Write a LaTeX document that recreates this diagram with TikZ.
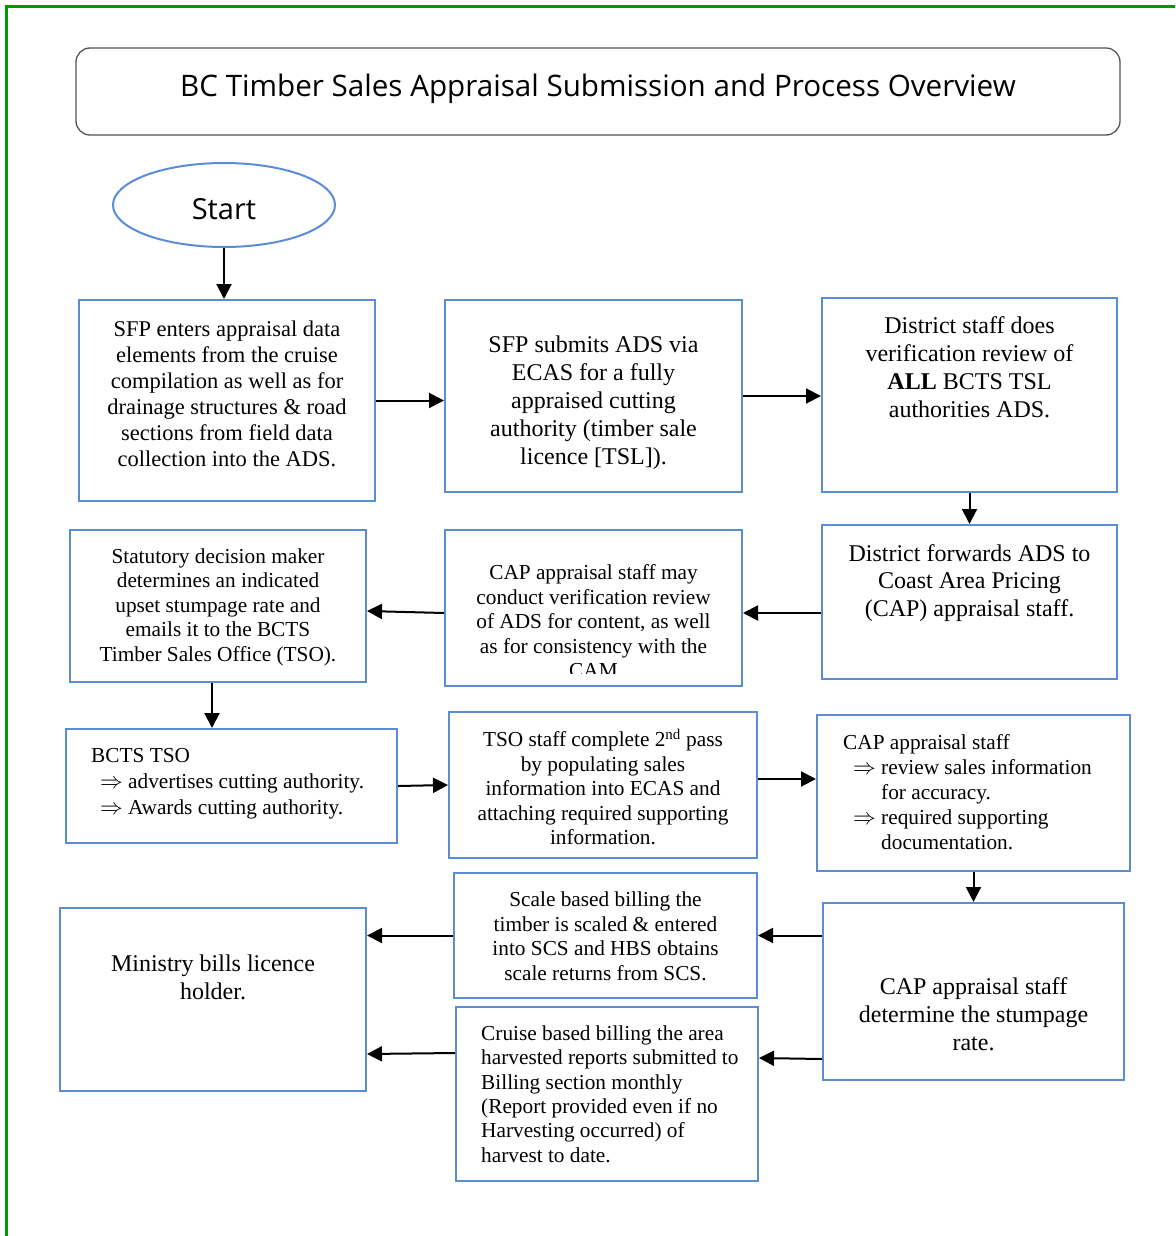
\documentclass[tikz,border=0pt]{standalone}
\usepackage{fontspec}
\setmainfont{Liberation Serif}
\newfontfamily\titlefont{Open Sans}
\usetikzlibrary{arrows.meta,shapes.geometric}
\definecolor{bxblue}{RGB}{91,141,214}
\definecolor{frgreen}{RGB}{0,153,0}
\definecolor{ttgray}{RGB}{85,85,85}
\newcommand{\dimp}{\makebox[28pt][l]{\scalebox{1.1}{$\Rightarrow$}}}
\tikzset{
  bx/.style={draw=bxblue, line width=2pt, rectangle, inner sep=0pt, fill=white},
  arr/.style={draw=black, line width=2pt, -{Triangle[length=15pt,width=15pt]}},
  tsmall/.style={inner sep=0pt, align=center, font=\fontsize{21.3pt}{24.5pt}\selectfont},
  tmid/.style={inner sep=0pt, align=center, font=\fontsize{22.5pt}{26pt}\selectfont},
  tbig/.style={inner sep=0pt, align=center, font=\fontsize{24pt}{28pt}\selectfont},
}
\begin{document}
\begin{tikzpicture}[x=1pt,y=-1pt]
\useasboundingbox (0,0) rectangle (1175,1236);
\clip (0,0) rectangle (1175,1236);
\fill[white] (0,0) rectangle (1175,1236);
% frame
\draw[frgreen, line width=3.2pt] (6.5,1250) -- (6.5,6.5) -- (1190,6.5);
% title
\node[draw=ttgray, line width=1.3pt, rounded corners=14pt, minimum width=1044pt, minimum height=87pt, inner sep=0pt] (title) at (598,91.5) {};
\node[inner sep=0pt, font=\titlefont\fontsize{29.6pt}{34pt}\selectfont] (titletext) at (598,88.5) {BC Timber Sales Appraisal Submission and Process Overview};
% start
\node[draw=bxblue, line width=2pt, ellipse, minimum width=222pt, minimum height=84pt, inner sep=0pt] (start) at (224,205) {};
\node[inner sep=0pt, font=\titlefont\fontsize{29pt}{34pt}\selectfont] (starttext) at (224,209) {Start};
% boxes
\node[bx, minimum width=296pt, minimum height=201pt] (b1) at (227,400.5) {};
\node[bx, minimum width=297pt, minimum height=192pt] (b2) at (593.5,396) {};
\node[bx, minimum width=295pt, minimum height=194pt] (b3) at (969.5,395) {};
\node[bx, minimum width=295pt, minimum height=154pt] (b4) at (969.5,602) {};
\node[bx, minimum width=297pt, minimum height=156pt] (b5) at (593.5,608) {};
\node[bx, minimum width=296pt, minimum height=152pt] (b6) at (218,606) {};
\node[bx, minimum width=331pt, minimum height=114pt] (b7) at (231.5,786) {};
\node[bx, minimum width=308pt, minimum height=146pt] (b8) at (603,785) {};
\node[bx, minimum width=313pt, minimum height=156pt] (b9) at (973.5,793) {};
\node[bx, minimum width=301pt, minimum height=177pt] (b10) at (973.5,991.5) {};
\node[bx, minimum width=303pt, minimum height=125pt] (b11) at (605.5,935.5) {};
\node[bx, minimum width=306pt, minimum height=183pt] (b12) at (213,999.5) {};
\node[bx, minimum width=302pt, minimum height=174pt] (b13) at (607,1094) {};
% texts
\node[tmid] (t1) at (227,393.5) {SFP enters appraisal data\\elements from the cruise\\compilation as well as for\\drainage structures \& road\\sections from field data\\collection into the ADS.};
\node[tbig] (t2) at (593.5,402.5) {SFP submits ADS via\\ECAS for a fully\\appraised cutting\\authority (timber sale\\licence [TSL]).};
\node[tbig] (t3) at (969.5,367.5) {District staff does\\verification review of\\\textbf{ALL} BCTS TSL\\authorities ADS.};
\node[tbig, font=\fontsize{24pt}{27.5pt}\selectfont] (t4) at (969.5,583) {District forwards ADS to\\Coast Area Pricing\\(CAP) appraisal staff.};
\begin{scope}
\clip (b5.north west) rectangle ([yshift=14pt]b5.south east);
\node[tsmall] (t5) at (593.5,621.5) {CAP appraisal staff may\\conduct verification review\\of ADS for content, as well\\as for consistency with the\\CAM};
\end{scope}
\node[tsmall] (t6) at (218,607) {Statutory decision maker\\determines an indicated\\upset stumpage rate and\\emails it to the BCTS\\Timber Sales Office (TSO).};
\node[tsmall, align=left, anchor=west, font=\fontsize{21.3pt}{26pt}\selectfont] (t7) at (91,784) {BCTS TSO\\\hspace*{9pt}\dimp advertises cutting authority.\\\hspace*{9pt}\dimp Awards cutting authority.};
\node[tsmall] (t8) at (603,787) {TSO staff complete 2\textsuperscript{nd} pass\\by populating sales\\information into ECAS and\\attaching required supporting\\information.};
\node[tsmall, align=left, anchor=west, font=\fontsize{21.3pt}{25pt}\selectfont] (t9) at (843,792) {CAP appraisal staff\\\hspace*{10pt}\dimp review sales information\\\hspace*{38pt}for accuracy.\\\hspace*{10pt}\dimp required supporting\\\hspace*{38pt}documentation.};
\node[tbig] (t10) at (973.5,1014) {CAP appraisal staff\\determine the stumpage\\rate.};
\node[tsmall] (t11) at (605.5,936) {Scale based billing the\\timber is scaled \& entered\\into SCS and HBS obtains\\scale returns from SCS.};
\node[tbig] (t12) at (213,977) {Ministry bills licence\\holder.};
\node[tsmall, align=left, anchor=west, font=\fontsize{21.3pt}{24.4pt}\selectfont] (t13) at (481,1094) {Cruise based billing the area\\harvested reports submitted to\\Billing section monthly\\(Report provided even if no\\Harvesting occurred) of\\harvest to date.};
% connectors
\draw[arr] (start.south) -- (start.south |- b1.north);
\draw[arr] (b1.east) -- (b1.east -| b2.west);
\draw[arr] (b2.east) -- (b2.east -| b3.west);
\draw[arr] (b3.south) -- (b3.south |- b4.north);
\draw[arr] ([yshift=-11pt]b4.west) -- ([yshift=-11pt]b4.west -| b5.east);
\draw[arr] ([yshift=-5pt]b5.west) -- ([yshift=-5pt]b6.east);
\draw[arr] ([xshift=-6pt]b6.south) -- ([xshift=-6pt]b6.south |- b7.north);
\draw[arr] (b7.east) -- (b8.west);
\draw[arr] ([yshift=6pt]b8.east) -- ([yshift=6pt]b8.east -| b9.west);
\draw[arr] (b9.south) -- (b9.south |- b10.north);
\draw[arr] (b10.west |- b11.east) -- (b11.east);
\draw[arr] (b11.west) -- (b11.west -| b12.east);
\draw[arr] ([yshift=-67.5pt]b10.west) -- ([yshift=36pt]b13.east);
\draw[arr] ([yshift=41pt]b13.west) -- ([yshift=-54.5pt]b12.east);
\end{tikzpicture}
\end{document}
